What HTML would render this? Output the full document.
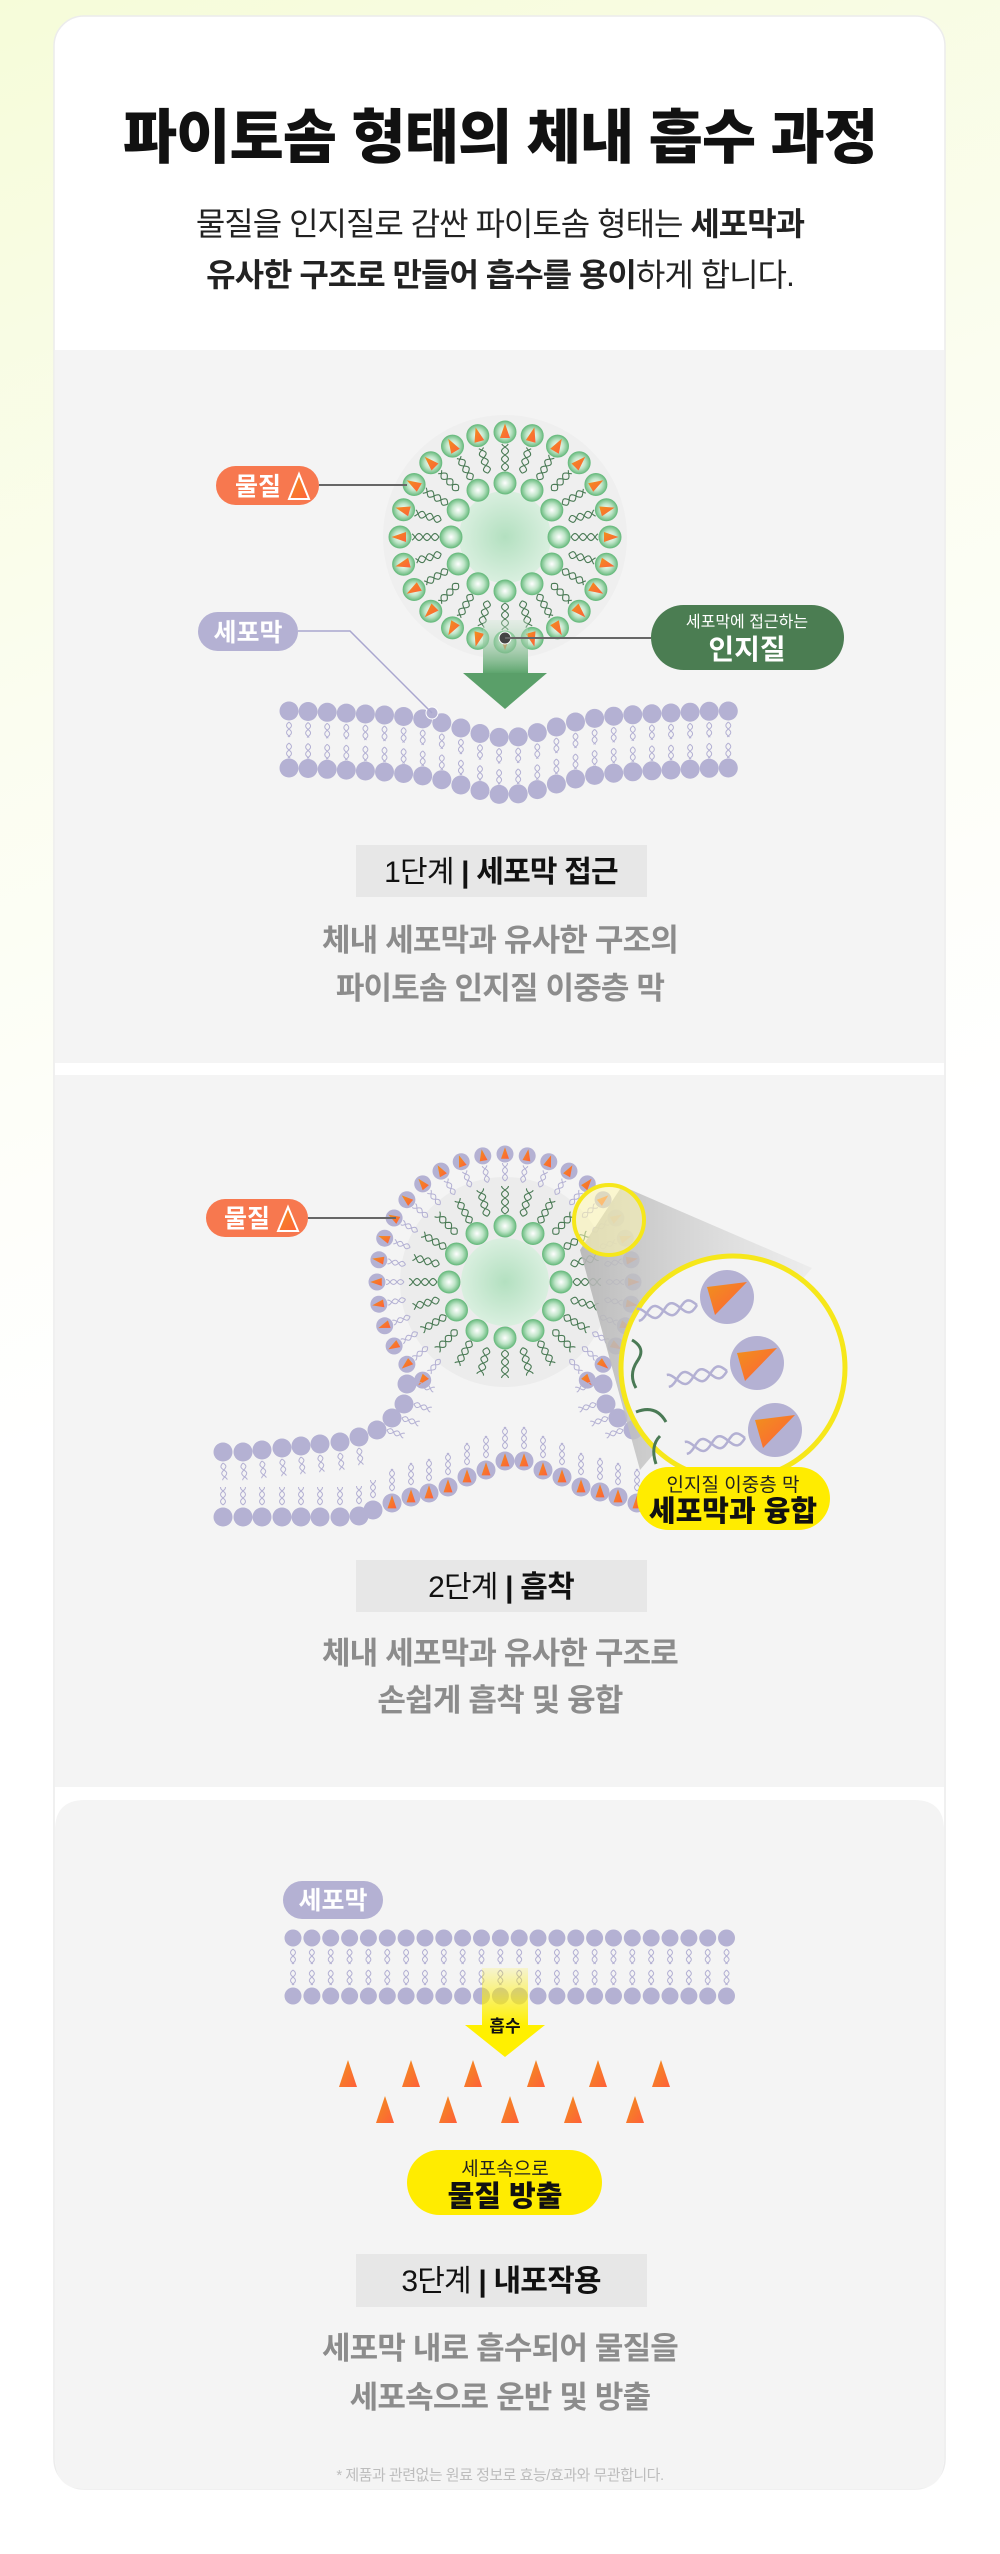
<!DOCTYPE html>
<html><head><meta charset="utf-8">
<style>
html,body{margin:0;padding:0;}
body{width:1000px;height:2554px;overflow:hidden;background:linear-gradient(160deg,#f6fcd9 0%,#fbfdf0 25%,#ffffff 50%);}
svg{display:block;}
text{font-family:"Liberation Sans","Noto Sans CJK KR",sans-serif;}
</style></head><body>
<svg id="s" width="1000" height="2554" viewBox="0 0 1000 2554" xmlns="http://www.w3.org/2000/svg">
<defs>
<radialGradient id="gh" cx="0.5" cy="0.5" r="0.5"><stop offset="0" stop-color="#ffffff"/><stop offset="0.55" stop-color="#bfe5c8"/><stop offset="1" stop-color="#6cbc81"/></radialGradient>
<radialGradient id="core" cx="0.5" cy="0.5" r="0.5"><stop offset="0" stop-color="#b3e0c0"/><stop offset="1" stop-color="#d9efdf"/></radialGradient>
<linearGradient id="og" x1="0" y1="0" x2="1" y2="1"><stop offset="0" stop-color="#f0911c"/><stop offset="1" stop-color="#ff5f3a"/></linearGradient>
<linearGradient id="ga" x1="0" y1="0" x2="0" y2="1"><stop offset="0" stop-color="#c9e6cf" stop-opacity="0.3"/><stop offset="1" stop-color="#5aa36a"/></linearGradient>
<linearGradient id="ya" x1="0" y1="0" x2="0" y2="1"><stop offset="0" stop-color="#fff000" stop-opacity="0.15"/><stop offset="1" stop-color="#fff000"/></linearGradient>
<linearGradient id="cone" x1="0" y1="0" x2="1" y2="0"><stop offset="0" stop-color="#b5b5b5" stop-opacity="0.9"/><stop offset="1" stop-color="#e8e8e8" stop-opacity="0.6"/></linearGradient>
</defs>
<rect x="54" y="16" width="891" height="2473" rx="30" fill="#fff" stroke="#ececec" stroke-width="1.5"/>
<rect x="55" y="350" width="889" height="713" fill="#f4f4f4"/>
<rect x="55" y="1075" width="889" height="712" fill="#f4f4f4"/>
<path d="M55 1830 Q55 1800 85 1800 L914 1800 Q944 1800 944 1830 L944 2459 Q944 2489 914 2489 L85 2489 Q55 2489 55 2459 Z" fill="#f4f4f4"/>

<text x="500" y="158" text-anchor="middle" font-size="59" font-weight="900" fill="#111" letter-spacing="-1">파이토솜 형태의 체내 흡수 과정</text>
<text x="500" y="235" text-anchor="middle" font-size="32" fill="#222" letter-spacing="-1">물질을 인지질로 감싼 파이토솜 형태는 <tspan font-weight="bold">세포막과</tspan></text>
<text x="500" y="286" text-anchor="middle" font-size="32" fill="#222" letter-spacing="-1"><tspan font-weight="bold">유사한 구조로 만들어 흡수를 용이</tspan>하게 합니다.</text>

<g id="g"></g>

<line x1="319" y1="485" x2="407" y2="485" stroke="#666" stroke-width="2"/>
<rect x="216" y="466" width="103" height="39" rx="19.5" fill="#f7784f"/>
<text x="258" y="495" text-anchor="middle" font-size="25" font-weight="bold" fill="#fff">물질</text>
<polygon points="299,474 289,499 309,499" fill="url(#og)" stroke="#fff" stroke-width="2"/>
<polyline points="298,631 350,631 432,713" fill="none" stroke="#a9a6cf" stroke-width="1.5"/>
<rect x="198" y="612" width="100" height="39" rx="19.5" fill="#b4b1d3"/>
<text x="248" y="641" text-anchor="middle" font-size="25" font-weight="bold" fill="#fff">세포막</text>
<line x1="505" y1="638" x2="651" y2="638" stroke="#666" stroke-width="2"/>
<rect x="651" y="605" width="193" height="65" rx="32.5" fill="#4b7d52"/>
<text x="747" y="627" text-anchor="middle" font-size="16" fill="#fff">세포막에 접근하는</text>
<text x="747" y="659" text-anchor="middle" font-size="28" font-weight="bold" fill="#fff">인지질</text>

<rect x="356" y="845" width="291" height="52" fill="#e7e7e7"/>
<text x="501" y="882" text-anchor="middle" font-size="30" fill="#111" letter-spacing="-0.8">1단계 <tspan font-weight="bold">| 세포막 접근</tspan></text>
<text x="500" y="951" text-anchor="middle" font-size="31" font-weight="bold" fill="#8c8c8c" letter-spacing="-0.8">체내 세포막과 유사한 구조의</text>
<text x="500" y="999" text-anchor="middle" font-size="31" font-weight="bold" fill="#8c8c8c" letter-spacing="-0.8">파이토솜 인지질 이중층 막</text>

<line x1="308" y1="1218" x2="396" y2="1218" stroke="#666" stroke-width="2"/>
<rect x="206" y="1199" width="102" height="38" rx="19" fill="#f7784f"/>
<text x="247" y="1227" text-anchor="middle" font-size="25" font-weight="bold" fill="#fff">물질</text>
<polygon points="288,1207 278,1231 298,1231" fill="url(#og)" stroke="#fff" stroke-width="2"/>
<rect x="637" y="1467" width="193" height="63" rx="31.5" fill="#ffec00"/>
<text x="733" y="1491" text-anchor="middle" font-size="19" fill="#222">인지질 이중층 막</text>
<text x="733" y="1521" text-anchor="middle" font-size="29" font-weight="900" fill="#111">세포막과 융합</text>

<rect x="356" y="1560" width="291" height="52" fill="#e7e7e7"/>
<text x="501" y="1597" text-anchor="middle" font-size="30" fill="#111" letter-spacing="-0.8">2단계 <tspan font-weight="bold">| 흡착</tspan></text>
<text x="500" y="1664" text-anchor="middle" font-size="31" font-weight="bold" fill="#8c8c8c" letter-spacing="-0.8">체내 세포막과 유사한 구조로</text>
<text x="500" y="1711" text-anchor="middle" font-size="31" font-weight="bold" fill="#8c8c8c" letter-spacing="-0.8">손쉽게 흡착 및 융합</text>

<rect x="283" y="1881" width="100" height="38" rx="19" fill="#b4b1d3"/>
<text x="333" y="1909" text-anchor="middle" font-size="25" font-weight="bold" fill="#fff">세포막</text>
<rect x="407" y="2150" width="195" height="65" rx="32.5" fill="#ffec00"/>
<text x="505" y="2175" text-anchor="middle" font-size="19" fill="#222">세포속으로</text>
<text x="505" y="2206" text-anchor="middle" font-size="29" font-weight="900" fill="#111">물질 방출</text>

<rect x="356" y="2254" width="291" height="53" fill="#e7e7e7"/>
<text x="501" y="2291" text-anchor="middle" font-size="30" fill="#111" letter-spacing="-0.8">3단계 <tspan font-weight="bold">| 내포작용</tspan></text>
<text x="500" y="2359" text-anchor="middle" font-size="31" font-weight="bold" fill="#8c8c8c" letter-spacing="-0.8">세포막 내로 흡수되어 물질을</text>
<text x="500" y="2408" text-anchor="middle" font-size="31" font-weight="bold" fill="#8c8c8c" letter-spacing="-0.8">세포속으로 운반 및 방출</text>
<text x="500" y="2480" text-anchor="middle" font-size="15" fill="#bdbdbd" letter-spacing="-0.5">* 제품과 관련없는 원료 정보로 효능/효과와 무관합니다.</text>
</svg>
<script>
var H='';
var D=Math.PI/180;
function wave(x1,y1,x2,y2,amp,per,ph,col,w){
  var dx=x2-x1,dy=y2-y1,L=Math.hypot(dx,dy),ux=dx/L,uy=dy/L,px=-uy,py=ux,p='';
  for(var t=0;t<=L;t+=1){var s=amp*Math.sin(2*Math.PI*t/per+ph);p+=(t?'L':'M')+(x1+ux*t+px*s).toFixed(1)+' '+(y1+uy*t+py*s).toFixed(1);}
  H+='<path d="'+p+'" fill="none" stroke="'+col+'" stroke-width="'+w+'"/>';
}
function dbl(x1,y1,x2,y2,amp,per,col,w){wave(x1,y1,x2,y2,amp,per,0,col,w);wave(x1,y1,x2,y2,amp,per,Math.PI,col,w);}
function cone(cx,cy,ang,r){
  var ux=Math.sin(ang),uy=-Math.cos(ang),px=-uy,py=ux;
  var ax=cx+ux*r*0.85,ay=cy+uy*r*0.85,bx=cx-ux*r*0.6,by=cy-uy*r*0.6;
  H+='<polygon points="'+ax.toFixed(1)+','+ay.toFixed(1)+' '+(bx+px*r*0.5).toFixed(1)+','+(by+py*r*0.5).toFixed(1)+' '+(bx-px*r*0.5).toFixed(1)+','+(by-py*r*0.5).toFixed(1)+'" fill="url(#og)"/>';
}
function circ(x,y,r,f,st){H+='<circle cx="'+x.toFixed(1)+'" cy="'+y.toFixed(1)+'" r="'+r+'" fill="'+f+'"'+(st?' stroke="'+st+'" stroke-width="1"':'')+'/>';}
var LAV='#b4b1d3',LT='#b3b0d3',DG='#4a7a55';
var cx=505,cy=537;
circ(cx,cy,122,'#efefef');
circ(cx,cy,46,'url(#core)');
for(var i=0;i<24;i++){var a=i*15*D;dbl(cx+66*Math.sin(a),cy-66*Math.cos(a),cx+93*Math.sin(a),cy-93*Math.cos(a),3.5,16,DG,1.1);}
for(var i=0;i<12;i++){var a=i*30*D;circ(cx+54*Math.sin(a),cy-54*Math.cos(a),11,'url(#gh)','#6cbc81');}
for(var i=0;i<24;i++){var a=i*15*D,x=cx+105*Math.sin(a),y=cy-105*Math.cos(a);circ(x,y,11,'url(#gh)','#6cbc81');cone(x,y,a,10);}
function dip(x){return 18*Math.exp(-Math.pow((x-507)/60,2))+9*Math.max(0,1-Math.abs(x-507)/210);}
for(var i=0;i<24;i++){var x=289+i*19.1,d=dip(x);
  dbl(x,711+d+11,x,711+d+26,2.5,14,LT,1);dbl(x,711+d+32,x,711+d+47,2.5,14,LT,1);
  circ(x,711+d,9.5,LAV);circ(x,768+d,9.5,LAV);}
circ(432,713,6,LAV,'#fff');
H+='<rect x="483" y="620" width="45" height="54" fill="url(#ga)"/>';
H+='<polygon points="463,673 547,673 505,709" fill="#5a9f69"/>';
circ(505,638,6,'#444','#fff');
cx=505;cy=1282;
circ(cx,cy,105,'#ececec');
circ(cx,cy,44,'url(#core)');
for(var i=0;i<24;i++){var a=i*15*D;dbl(cx+68*Math.sin(a),cy-68*Math.cos(a),cx+96*Math.sin(a),cy-96*Math.cos(a),3.5,16,DG,1.1);}
for(var i=0;i<12;i++){var a=i*30*D;circ(cx+56*Math.sin(a),cy-56*Math.cos(a),11,'url(#gh)','#6cbc81');}
for(var k=-140;k<=140;k+=10){var a=k*D,x=cx+128*Math.sin(a),y=cy-128*Math.cos(a);
  dbl(cx+101*Math.sin(a),cy-101*Math.cos(a),cx+119*Math.sin(a),cy-119*Math.cos(a),2.5,14,LT,1);
  circ(x,y,8.5,LAV);cone(x,y,a,8);}
var stemL=[[407,1384],[404,1404],[392,1418],[377,1430],[359,1437],[340,1442],[320,1444],[301,1446],[282,1448],[262,1450],[243,1452],[223,1452]];
stemL.forEach(function(p,j){ if(j<4){dbl(p[0]+10,p[1],p[0]+28,p[1]+6,2.5,14,LT,1);} else {dbl(p[0],p[1]+11,p[0]+2,p[1]+28,2.5,14,LT,1);} circ(p[0],p[1],9.5,LAV);
  if(j<4){var q=[1010-p[0],p[1]];dbl(q[0]-10,q[1],q[0]-28,q[1]+6,2.5,14,LT,1);circ(q[0],q[1],9.5,LAV);} });
var bot=[[223,1517],[243,1517],[262,1517],[282,1517],[301,1517],[320,1517],[340,1517],[359,1516],[373,1510]];
bot.forEach(function(p){dbl(p[0],p[1]-12,p[0],p[1]-30,2.5,14,LT,1);circ(p[0],p[1],9.5,LAV);});
var bump=[[392,1503],[411,1497],[429,1493],[448,1487],[467,1477],[486,1470],[505,1461],[524,1461],[543,1470],[562,1477],[581,1487],[600,1492],[618,1497],[637,1503]];
bump.forEach(function(p){dbl(p[0],p[1]-12,p[0],p[1]-34,2.5,14,LT,1);circ(p[0],p[1],9.5,LAV);cone(p[0],p[1],0,9);});
H+='<polygon points="622,1186 812,1268 640,1470 580,1250" fill="url(#cone)"/>';
circ(733,1368,112,'#f3f3f3');
H+='<circle cx="733" cy="1368" r="112" fill="none" stroke="#f6e71a" stroke-width="5"/>';
[[727,1297],[757,1363],[775,1430]].forEach(function(p){dbl(p[0]-30,p[1]+8,p[0]-90,p[1]+18,6,34,LT,2.5);circ(p[0],p[1],27,LAV);
  H+='<polygon points="'+(p[0]-20)+','+(p[1]-10)+' '+(p[0]+20)+','+(p[1]-15)+' '+(p[0]-12)+','+(p[1]+18)+'" fill="url(#og)"/>';});
H+='<path d="M632 1340 q14 8 6 20 q-10 14 -2 28" fill="none" stroke="'+DG+'" stroke-width="3"/>';
H+='<path d="M636 1412 q20 -8 30 10 M660 1436 q-10 10 -4 28" fill="none" stroke="'+DG+'" stroke-width="3"/>';
H+='<circle cx="609" cy="1220" r="35" fill="#fff7b0" fill-opacity="0.55" stroke="#f6e71a" stroke-width="4"/>';
for(var i=0;i<24;i++){var x=293+i*18.85;
  dbl(x,1949,x,1964,2.5,14,LT,1);dbl(x,1970,x,1985,2.5,14,LT,1);
  circ(x,1938,8.5,LAV);circ(x,1996,8.5,LAV);}
H+='<rect x="482" y="1968" width="46" height="58" fill="url(#ya)"/>';
H+='<polygon points="465,2025 545,2025 505,2057" fill="#fff000"/>';
H+='<text x="505" y="2032" text-anchor="middle" font-size="17" font-weight="bold" fill="#111">흡수</text>';
function tri(x,y){H+='<polygon points="'+x+','+y+' '+(x-9)+','+(y+27)+' '+(x+9)+','+(y+27)+'" fill="url(#og)"/>';}
[348,411,473,536,598,661].forEach(function(x){tri(x,2060);});
[385,448,510,573,635].forEach(function(x){tri(x,2096);});
document.getElementById('g').innerHTML=H;
</script>
</body></html>
